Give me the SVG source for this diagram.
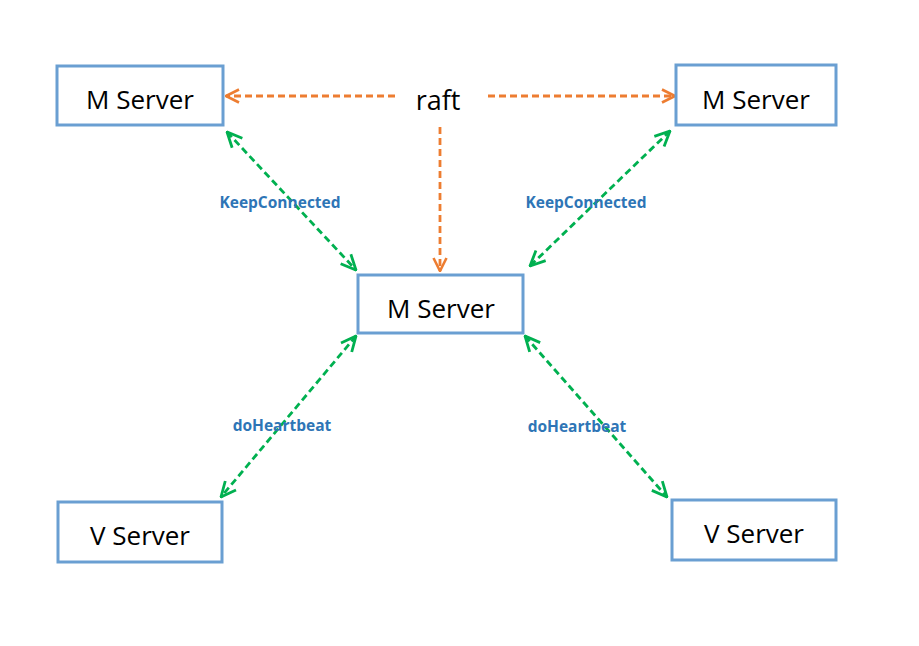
<svg xmlns="http://www.w3.org/2000/svg" width="919" height="646" viewBox="0 0 919 646">
<style>
.box{fill:#fff;stroke:#6A9FD2;stroke-width:3}
.nt{font-family:"Open Sans","Liberation Sans",sans-serif;font-size:26px;fill:#000;text-anchor:middle}
.or{stroke:#ED7D31;stroke-width:2.8;stroke-dasharray:7 4;fill:none}
.gr{stroke:#00B050;stroke-width:2.8;stroke-dasharray:7 4;fill:none}
.lb{font-family:"Open Sans","Liberation Sans",sans-serif;font-size:15.5px;font-weight:bold;fill:#2E75B6;text-anchor:middle}
</style>
<defs>
<marker id="ao" viewBox="0 0 16 16" refX="15" refY="8" markerWidth="16" markerHeight="16" markerUnits="userSpaceOnUse" orient="auto-start-reverse">
<path d="M2,1.5 L15,8 L2,14.5" fill="none" stroke="#ED7D31" stroke-width="2.6"/>
</marker>
<marker id="ag" viewBox="0 0 18 18" refX="17" refY="9" markerWidth="18" markerHeight="18" markerUnits="userSpaceOnUse" orient="auto-start-reverse">
<path d="M2,2 L17,9 L2,16" fill="none" stroke="#00B050" stroke-width="2.8"/>
</marker>
</defs>
<rect width="919" height="646" fill="#fff"/>
<g id="connectors">
<line class="or" x1="395" y1="96" x2="226" y2="96" marker-end="url(#ao)"/>
<line class="or" x1="488" y1="96" x2="675" y2="96" marker-end="url(#ao)"/>
<line class="or" x1="440" y1="127" x2="440" y2="271" marker-end="url(#ao)"/>
<line class="gr" x1="227" y1="132" x2="356" y2="270" marker-start="url(#ag)" marker-end="url(#ag)"/>
<line class="gr" x1="670" y1="131" x2="530" y2="266" marker-start="url(#ag)" marker-end="url(#ag)"/>
<line class="gr" x1="356" y1="336" x2="221" y2="497" marker-start="url(#ag)" marker-end="url(#ag)"/>
<line class="gr" x1="525" y1="336" x2="667" y2="497" marker-start="url(#ag)" marker-end="url(#ag)"/>
<text class="lb" x="280" y="208">KeepConnected</text>
<text class="lb" x="586" y="208">KeepConnected</text>
<text class="lb" x="282" y="431">doHeartbeat</text>
<text class="lb" x="577" y="432">doHeartbeat</text>
</g>
<g id="raft"><text x="438" y="110" font-family="Open Sans, Liberation Sans, sans-serif" font-size="27" text-anchor="middle">raft</text></g>
<g id="m1"><rect class="box" x="57" y="66" width="166" height="59"/><text class="nt" x="140" y="109">M Server</text></g>
<g id="m2"><rect class="box" x="676" y="65" width="160" height="60"/><text class="nt" x="756" y="109">M Server</text></g>
<g id="m3"><rect class="box" x="358" y="275" width="165" height="58"/><text class="nt" x="441" y="318">M Server</text></g>
<g id="v1"><rect class="box" x="58" y="502" width="164" height="60"/><text class="nt" x="140" y="545">V Server</text></g>
<g id="v2"><rect class="box" x="672" y="500" width="164" height="60"/><text class="nt" x="754" y="543">V Server</text></g>
</svg>
